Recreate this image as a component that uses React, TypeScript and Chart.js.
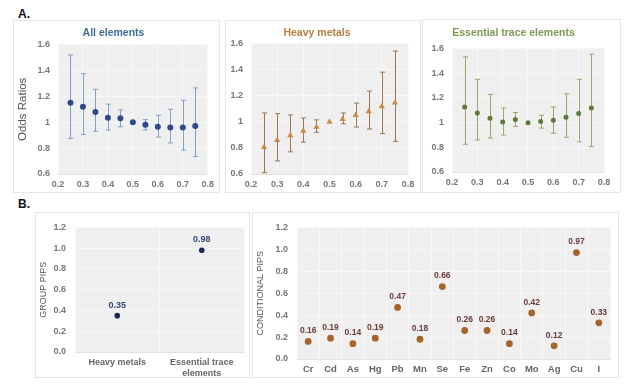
import React, { useEffect, useRef } from "react";
import { Chart, registerables } from "chart.js";
Chart.register(...registerables);

const FONT = "'Liberation Sans', Arial, Helvetica, sans-serif";

// ---------- Data ----------
const thresholds = [0.25, 0.3, 0.35, 0.4, 0.45, 0.5, 0.55, 0.6, 0.65, 0.7, 0.75];

const allOR = [1.15, 1.12, 1.08, 1.035, 1.03, 1.0, 0.98, 0.965, 0.96, 0.96, 0.97];
const allLo = [0.875, 0.905, 0.93, 0.94, 0.965, null, 0.94, 0.885, 0.84, 0.785, 0.735];
const allHi = [1.52, 1.375, 1.255, 1.14, 1.095, null, 1.02, 1.055, 1.1, 1.17, 1.265];

const heavyOR = [0.805, 0.86, 0.895, 0.93, 0.96, 1.0, 1.02, 1.05, 1.08, 1.118, 1.146];
const heavyLo = [0.61, 0.7, 0.77, 0.845, 0.92, null, 0.985, 0.96, 0.945, 0.91, 0.85];
const heavyHi = [1.068, 1.063, 1.053, 1.03, 1.015, null, 1.068, 1.143, 1.236, 1.381, 1.543];

const essOR = [1.127, 1.079, 1.036, 1.005, 1.026, 1.0, 1.01, 1.02, 1.044, 1.074, 1.119];
const essLo = [0.825, 0.86, 0.876, 0.9, 0.97, null, 0.956, 0.914, 0.881, 0.844, 0.806];
const essHi = [1.533, 1.351, 1.229, 1.119, 1.082, null, 1.06, 1.127, 1.234, 1.351, 1.555];

const groupNames = ["Heavy metals", ["Essential trace", "elements"]];
const groupPIPs = [0.35, 0.98];

const elements = ["Cr", "Cd", "As", "Hg", "Pb", "Mn", "Se", "Fe", "Zn", "Co", "Mo", "Ag", "Cu", "I"];
const conditionalPIPs = [0.16, 0.19, 0.14, 0.19, 0.47, 0.18, 0.66, 0.26, 0.26, 0.14, 0.42, 0.12, 0.97, 0.33];

// ---------- Plugins ----------
const plotBgPlugin = {
  id: "plotBg",
  beforeDraw(chart: any) {
    const { ctx, chartArea } = chart;
    if (!chartArea) return;
    ctx.save();
    ctx.fillStyle = "#efefef";
    ctx.fillRect(chartArea.left, chartArea.top, chartArea.right - chartArea.left, chartArea.bottom - chartArea.top);
    ctx.restore();
  },
};

const errorBarPlugin = {
  id: "errorBars",
  beforeDatasetsDraw(chart: any) {
    const { ctx } = chart;
    const xs = chart.scales.x;
    const ys = chart.scales.y;
    chart.data.datasets.forEach((ds: any) => {
      if (!ds.errLo) return;
      ctx.save();
      ctx.strokeStyle = ds.errColor;
      ctx.lineWidth = 1;
      ds.data.forEach((p: any, i: number) => {
        const lo = ds.errLo[i];
        const hi = ds.errHi[i];
        if (lo == null || hi == null) return;
        const px = Math.round(xs.getPixelForValue(p.x)) + 0.5;
        const pl = ys.getPixelForValue(lo);
        const ph = ys.getPixelForValue(hi);
        const cap = 2.5;
        ctx.beginPath();
        ctx.moveTo(px, pl);
        ctx.lineTo(px, ph);
        ctx.moveTo(px - cap, pl);
        ctx.lineTo(px + cap, pl);
        ctx.moveTo(px - cap, ph);
        ctx.lineTo(px + cap, ph);
        ctx.stroke();
      });
      ctx.restore();
    });
  },
};

const valueLabelPlugin = {
  id: "valueLabels",
  afterDatasetsDraw(chart: any) {
    const { ctx } = chart;
    chart.data.datasets.forEach((ds: any, di: number) => {
      if (!ds.labelColor) return;
      const meta = chart.getDatasetMeta(di);
      ctx.save();
      ctx.fillStyle = ds.labelColor;
      ctx.font = `bold ${ds.labelSize}px ${FONT}`;
      ctx.textAlign = "center";
      ctx.textBaseline = "middle";
      meta.data.forEach((el: any, i: number) => {
        const v = ds.data[i];
        ctx.fillText(Number(v).toFixed(2), el.x, el.y - 10.5);
      });
      ctx.restore();
    });
  },
};

// ---------- Config builders ----------
const tickFont = { family: FONT, size: 9, weight: "bold" as const };

function oddsConfig(
  title: string,
  titleColor: string,
  or: number[],
  lo: (number | null)[],
  hi: (number | null)[],
  pointColor: string,
  errColor: string,
  pointStyle: string,
  radius: number,
  geo: { left: number; right: number; top: number; bottom: number; tTop: number; tBottom: number },
  showYTitle: boolean
) {
  return {
    type: "scatter",
    data: {
      datasets: [
        {
          data: thresholds.map((t, i) => ({ x: t, y: or[i] })),
          errLo: lo,
          errHi: hi,
          errColor,
          backgroundColor: pointColor,
          borderColor: pointColor,
          pointStyle,
          pointRadius: radius,
          pointBorderWidth: 0,
        },
      ],
    },
    options: {
      animation: false,
      responsive: false,
      layout: { padding: { left: 0, right: geo.right, top: 0, bottom: 0 } },
      plugins: {
        legend: { display: false },
        tooltip: { enabled: false },
        title: {
          display: true,
          text: title,
          color: titleColor,
          font: { family: FONT, size: 10.5, weight: "bold" },
          padding: { top: geo.tTop, bottom: geo.tBottom },
        },
      },
      scales: {
        x: {
          type: "linear",
          min: 0.2,
          max: 0.8,
          ticks: {
            stepSize: 0.1,
            color: "#777",
            font: tickFont,
            padding: 5,
            maxRotation: 0,
            callback: (v: any) => Number(v).toFixed(1),
          },
          grid: { color: "#f8f8f8", drawTicks: false },
          border: { display: true, color: "#e2e2e2" },
          afterFit: (s: any) => {
            s.height = geo.bottom;
          },
        },
        y: {
          min: 0.6,
          max: 1.6,
          ticks: {
            stepSize: 0.2,
            color: "#777",
            font: tickFont,
            padding: 8,
            callback: (v: any) => String(Number(Number(v).toFixed(1))),
          },
          grid: { color: "#f6f6f6", drawTicks: false },
          border: { display: false },
          title: {
            display: showYTitle,
            text: "Odds Ratios",
            color: "#555",
            font: { family: FONT, size: 11.5 },
            padding: { top: 2, bottom: 0 },
          },
          afterFit: (s: any) => {
            s.width = geo.left;
          },
        },
      },
    },
    plugins: [plotBgPlugin, errorBarPlugin],
  };
}

function pipConfig(
  labels: any[],
  values: number[],
  yTitle: string,
  pointColor: string,
  labelColor: string,
  labelSize: number,
  radius: number,
  geo: { left: number; right: number; top: number; bottom: number },
  xFontSize: number
) {
  return {
    type: "line",
    data: {
      labels,
      datasets: [
        {
          data: values,
          showLine: false,
          backgroundColor: pointColor,
          borderColor: pointColor,
          pointRadius: radius,
          pointBorderWidth: 0,
          labelColor,
          labelSize,
        },
      ],
    },
    options: {
      animation: false,
      responsive: false,
      layout: { padding: { left: 0, right: geo.right, top: geo.top, bottom: 0 } },
      plugins: {
        legend: { display: false },
        tooltip: { enabled: false },
      },
      scales: {
        x: {
          type: "category",
          offset: true,
          ticks: {
            color: "#666",
            font: { family: FONT, size: xFontSize, weight: "bold" },
            padding: 5,
            maxRotation: 0,
            autoSkip: false,
          },
          grid: { color: "#f8f8f8", drawTicks: false, offset: true },
          border: { display: true, color: "#e2e2e2" },
          afterFit: (s: any) => {
            s.height = geo.bottom;
          },
        },
        y: {
          min: 0,
          max: 1.2,
          ticks: {
            stepSize: 0.2,
            color: "#777",
            font: tickFont,
            padding: 9,
            callback: (v: any) => Number(v).toFixed(1),
          },
          grid: { color: "#f6f6f6", drawTicks: false },
          border: { display: false },
          title: {
            display: true,
            text: yTitle,
            color: "#555",
            font: { family: FONT, size: 9 },
            padding: { top: 2, bottom: 0 },
          },
          afterFit: (s: any) => {
            s.width = geo.left;
          },
        },
      },
    },
    plugins: [plotBgPlugin, valueLabelPlugin],
  };
}

// ---------- Components ----------
function Panel({ left, top, width, height, config }: any) {
  const ref = useRef<HTMLCanvasElement | null>(null);
  useEffect(() => {
    if (!ref.current) return;
    const chart = new Chart(ref.current, config);
    return () => chart.destroy();
  }, []);
  return (
    <div
      style={{
        position: "absolute",
        left,
        top,
        width,
        height,
        border: "1px solid #e6e6e6",
        boxSizing: "border-box",
        background: "#fff",
      }}
    >
      <canvas
        ref={ref}
        width={width - 2}
        height={height - 2}
        style={{ display: "block", width: width - 2, height: height - 2 }}
      />
    </div>
  );
}

export default function App() {
  const p1 = oddsConfig("All elements", "#3d6e9e", allOR, allLo, allHi, "#2e4a8c", "#7f9fc4", "circle", 3,
    { left: 44, right: 6, top: 23, bottom: 18, tTop: 6, tBottom: 5 }, true);
  const p2 = oddsConfig("Heavy metals", "#b7813f", heavyOR, heavyLo, heavyHi, "#c98b47", "#9b7650", "triangle", 3.6,
    { left: 25, right: 12, top: 22, bottom: 18, tTop: 6, tBottom: 4 }, false);
  const p3 = oddsConfig("Essential trace elements", "#7f9a55", essOR, essLo, essHi, "#5d7a3a", "#a0a070", "circle", 2.5,
    { left: 29, right: 16, top: 29, bottom: 20, tTop: 7, tBottom: 9 }, false);
  const b1 = pipConfig(groupNames, groupPIPs, "GROUP PIPS", "#1d2b52", "#2f4a78", 9, 2.8,
    { left: 39, right: 5, top: 8, bottom: 25 }, 9);
  const b2 = pipConfig(elements, conditionalPIPs, "CONDITIONAL PIPS", "#a5642a", "#6b3b3b", 8.5, 3.4,
    { left: 44, right: 8, top: 8, bottom: 18 }, 9.5);

  const letter: any = {
    position: "absolute",
    fontFamily: FONT,
    fontWeight: "bold",
    fontSize: 12,
    lineHeight: "12px",
    color: "#111",
  };

  return (
    <div style={{ position: "fixed", left: 0, top: 0, width: 639, height: 392, background: "#fff", overflow: "hidden" }}>
      <div style={{ ...letter, left: 18, top: 8 }}>A.</div>
      <div style={{ ...letter, left: 18, top: 198 }}>B.</div>
      <Panel left={13} top={20} width={207} height={173} config={p1} />
      <Panel left={225} top={20} width={196} height={173} config={p2} />
      <Panel left={422} top={19} width={199} height={174} config={p3} />
      <Panel left={35} top={212} width={215} height={166} config={b1} />
      <Panel left={252} top={212} width={367} height={166} config={b2} />
    </div>
  );
}
